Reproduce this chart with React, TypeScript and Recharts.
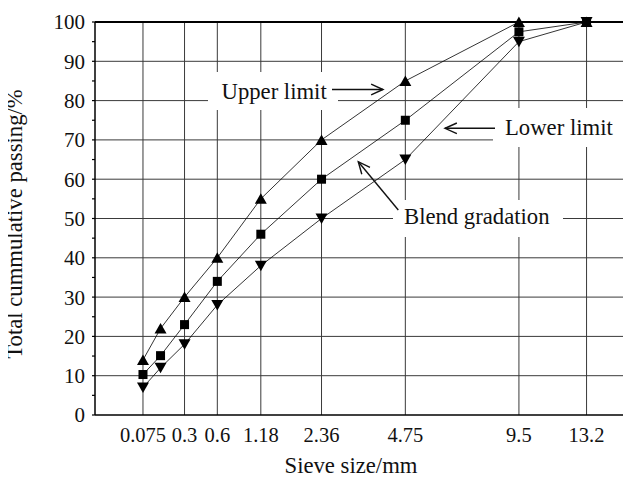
import React from "react";
import { LineChart, Line, XAxis, YAxis, ReferenceLine } from "recharts";

const sieveSizes = [0.075, 0.15, 0.3, 0.6, 1.18, 2.36, 4.75, 9.5, 13.2];
const upperLimit = [14, 22, 30, 40, 55, 70, 85, 100, 100];
const blendGradation = [10.3, 15.1, 23, 34, 46, 60, 75, 97.5, 100];
const lowerLimit = [7, 12, 18, 28, 38, 50, 65, 95, 100];

const tickSizes = [0.075, 0.3, 0.6, 1.18, 2.36, 4.75, 9.5, 13.2];
const tickLabels = ["0.075", "0.3", "0.6", "1.18", "2.36", "4.75", "9.5", "13.2"];
const yTicks = [0, 5, 10, 15, 20, 25, 30, 35, 40, 45, 50, 55, 60, 65, 70, 75, 80, 85, 90, 95, 100];
const yGrid = [10, 20, 30, 40, 50, 60, 70, 80, 90];

const EXP = 0.45;
const X_MAX = 16;
const tx = (v: number) => Math.pow(v, EXP);

const data = sieveSizes.map((s, i) => ({
  x: tx(s),
  upper: upperLimit[i],
  blend: blendGradation[i],
  lower: lowerLimit[i],
}));

const FONT = "Liberation Serif, Times New Roman, serif";

const TriUp = (props: any) => {
  const { cx, cy } = props;
  if (cx == null || cy == null) return null;
  return <path d={`M${cx - 6},${cy + 5} L${cx + 6},${cy + 5} L${cx},${cy - 5.5} Z`} fill="#000" />;
};
const TriDown = (props: any) => {
  const { cx, cy } = props;
  if (cx == null || cy == null) return null;
  return <path d={`M${cx - 6},${cy - 5} L${cx + 6},${cy - 5} L${cx},${cy + 5.5} Z`} fill="#000" />;
};
const Sq = (props: any) => {
  const { cx, cy } = props;
  if (cx == null || cy == null) return null;
  return <rect x={cx - 4.5} y={cy - 4.5} width={9} height={9} fill="#000" />;
};

const arrowHead = (tipX: number, tipY: number, dx: number, dy: number, len = 13, ang = 0.42) => {
  const l = Math.hypot(dx, dy);
  const ux = dx / l, uy = dy / l;
  const r = (a: number) => [ux * Math.cos(a) - uy * Math.sin(a), ux * Math.sin(a) + uy * Math.cos(a)];
  const [ax, ay] = r(ang);
  const [bx, by] = r(-ang);
  return `M${tipX + ax * len},${tipY + ay * len} L${tipX},${tipY} L${tipX + bx * len},${tipY + by * len}`;
};

export default function App() {
  return (
    <div style={{ position: "relative", left: -8, top: -8, width: 631, height: 478, background: "#fff", overflow: "hidden" }}>
      <LineChart width={631} height={478} data={data} margin={{ top: 22, right: 0, left: 0, bottom: 0 }}>
        <XAxis
          type="number"
          dataKey="x"
          domain={[0, tx(X_MAX)]}
          ticks={tickSizes.map(tx)}
          tickFormatter={(_v: number, i: number) => tickLabels[i]}
          tickSize={0}
          tickMargin={12}
          height={63}
          axisLine={{ stroke: "#000", strokeWidth: 1.5 }}
          tick={{ fill: "#111", fontSize: 20.5, fontFamily: FONT }}
          interval={0}
          allowDataOverflow
        />
        <YAxis
          type="number"
          domain={[0, 100]}
          ticks={yTicks}
          tickFormatter={(v: number) => (v % 10 === 0 ? String(v) : "")}
          width={95}
          tickSize={3}
          tickMargin={7}
          interval={0}
          axisLine={{ stroke: "#000", strokeWidth: 1.5 }}
          tickLine={{ stroke: "#000", strokeWidth: 1.2 }}
          tick={{ fill: "#111", fontSize: 21, fontFamily: FONT }}
        />
        {yGrid.map((v) => (
          <ReferenceLine key={"y" + v} y={v} stroke="#3a3a3a" strokeWidth={1} />
        ))}
        {tickSizes.map((s) => (
          <ReferenceLine key={"x" + s} x={tx(s)} stroke="#3a3a3a" strokeWidth={1} />
        ))}
        <ReferenceLine y={100} stroke="#000" strokeWidth={2.2} />
        <Line type="linear" dataKey="upper" stroke="#000" strokeWidth={0.8} dot={<TriUp />} activeDot={false} isAnimationActive={false} />
        <Line type="linear" dataKey="blend" stroke="#000" strokeWidth={0.8} dot={<Sq />} activeDot={false} isAnimationActive={false} />
        <Line type="linear" dataKey="lower" stroke="#000" strokeWidth={0.8} dot={<TriDown />} activeDot={false} isAnimationActive={false} />
      </LineChart>
      <svg width={631} height={478} style={{ position: "absolute", left: 0, top: 0, pointerEvents: "none" }}>
        <g fontFamily={FONT} fill="#111">
          <rect x={208} y={72} width={130} height={38} fill="#fff" />
          <rect x={493} y={108} width={130} height={39} fill="#fff" />
          <rect x={393} y={200} width={170} height={37} fill="#fff" />
          <text x={221.5} y={99} fontSize={22.7}>Upper limit</text>
          <text x={505} y={135} fontSize={22.7}>Lower limit</text>
          <text x={404} y={224} fontSize={22.7}>Blend gradation</text>
          <text x={351} y={473} fontSize={22.7} textAnchor="middle">Sieve size/mm</text>
          <text x={22} y={224} fontSize={22.7} textAnchor="middle" transform="rotate(-90 22 224)">Total cummulative passing/%</text>
        </g>
        <g stroke="#111" strokeWidth={1.4} fill="none">
          <line x1={332} y1={89.5} x2={383} y2={89.5} />
          <path d={arrowHead(383, 89.5, -1, 0)} />
          <line x1={445} y1={128.3} x2={495} y2={128.3} />
          <path d={arrowHead(445, 128.3, 1, 0)} />
          <line x1={398.3} y1={210} x2={358.3} y2={161.7} />
          <path d={arrowHead(358.3, 161.7, 40, 48.3)} />
        </g>
      </svg>
    </div>
  );
}
